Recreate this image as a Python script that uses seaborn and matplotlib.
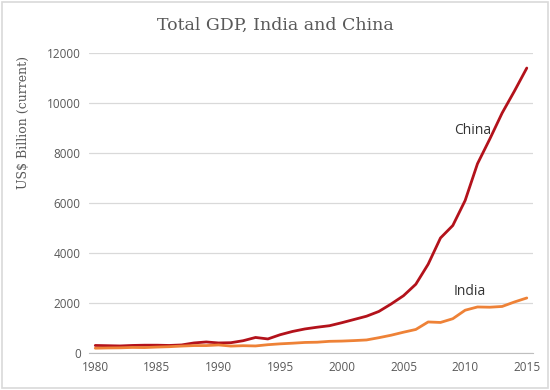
import numpy as np
import pandas as pd
import matplotlib
matplotlib.use("Agg")
import matplotlib.pyplot as plt
import seaborn as sns

# GDP in US$ billion (current)
years = list(range(1980, 2016))
china = [300, 290, 280, 300, 310, 310, 300, 320, 400, 440,
         400, 410, 490, 620, 560, 730, 860, 960, 1030, 1090,
         1210, 1340, 1470, 1660, 1960, 2290, 2750, 3550, 4600, 5100,
         6100, 7570, 8560, 9600, 10480, 11400]
india = [190, 200, 205, 220, 215, 235, 250, 275, 295, 295,
         320, 275, 290, 280, 330, 365, 390, 420, 430, 465,
         475, 495, 520, 610, 710, 830, 940, 1240, 1220, 1370,
         1710, 1840, 1830, 1860, 2040, 2200]

df = pd.DataFrame({"year": years, "China": china, "India": india})
df_long = df.melt(id_vars="year", var_name="country", value_name="gdp")

sns.set_style("white")

fig = plt.figure(figsize=(5.5, 3.9), dpi=100)
ax = fig.add_axes([0.162, 0.095, 0.807, 0.769])

palette = {"China": "#B3121B", "India": "#EE8237"}
sns.lineplot(data=df_long, x="year", y="gdp", hue="country",
             palette=palette, linewidth=2.0, legend=False, ax=ax)

ax.set_xlim(1979.5, 2015.5)
ax.set_ylim(0, 12000)
ax.set_xticks(range(1980, 2016, 5))
ax.set_yticks(range(0, 12001, 2000))
ax.yaxis.grid(True, color="#D9D9D9", linewidth=0.9)
ax.set_axisbelow(True)
for side in ["top", "right", "left"]:
    ax.spines[side].set_visible(False)
ax.spines["bottom"].set_color("#BFBFBF")
ax.tick_params(axis="both", length=0, labelsize=8.5, labelcolor="#595959", pad=6)
for lbl in ax.get_xticklabels() + ax.get_yticklabels():
    lbl.set_family("Open Sans")

ax.set_xlabel("")
ax.set_ylabel("US$ Billion (current)", family="DejaVu Serif", fontsize=9,
              color="#595959", labelpad=6)
ax.yaxis.set_label_coords(-0.133, 0.77)

ax.text(2010.6, 8900, "China", ha="center", va="center", fontsize=10,
        color="#333333", family="Open Sans")
ax.text(2010.4, 2440, "India", ha="center", va="center", fontsize=10,
        color="#333333", family="Open Sans")

fig.text(0.5, 0.935, "Total GDP, India and China", ha="center", va="center",
         fontsize=12.5, color="#595959", family="DejaVu Serif")

# light frame around the chart area
fig.patches.append(plt.Rectangle((0.003, 0.004), 0.994, 0.992, transform=fig.transFigure,
                                 fill=False, edgecolor="#D9D9D9", linewidth=1.2))

fig.savefig("out.png", dpi=100)
